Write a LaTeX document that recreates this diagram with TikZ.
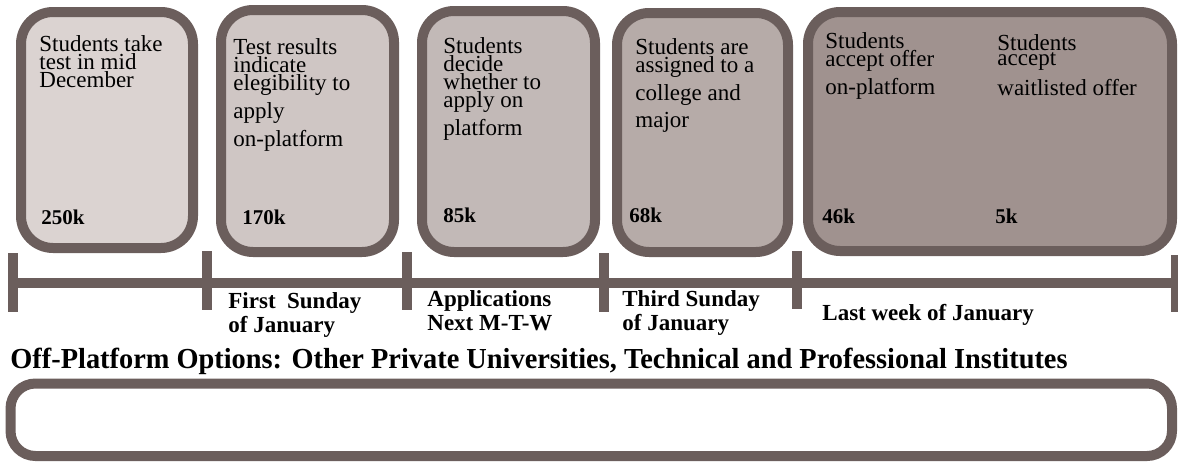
\documentclass[tikz,border=0pt]{standalone}
\usepackage{fontspec}
\setmainfont{Liberation Serif}
\usetikzlibrary{positioning}
\definecolor{frameC}{RGB}{107,94,92}
\definecolor{fillA}{RGB}{219,211,209}
\definecolor{fillB}{RGB}{207,198,196}
\definecolor{fillC}{RGB}{194,185,183}
\definecolor{fillD}{RGB}{182,171,168}
\definecolor{fillE}{RGB}{160,146,143}

\begin{document}
\begin{tikzpicture}
  [x=0.5pt,y=-0.5pt,
   stageN/.style={draw=frameC,line width=5pt,rounded corners=16pt,inner sep=0pt},
   txtN/.style={anchor=north west,align=left,inner sep=0pt,font=\fontsize{11.5}{9}\selectfont},
   numN/.style={anchor=base west,inner sep=0pt,font=\fontsize{10.5}{9}\selectfont\bfseries},
   dateN/.style={anchor=north west,align=left,inner sep=0pt,font=\fontsize{11.5}{12}\selectfont\bfseries}]

  \useasboundingbox (0,0) rectangle (1178,461);

  % stages
  \node[stageN,fill=fillA,minimum width=86pt,minimum height=118pt] (s1) at (107,130) {};
  \node[stageN,fill=fillB,minimum width=86.5pt,minimum height=121pt] (s2) at (307.5,131) {};
  \node[stageN,fill=fillC,minimum width=86.5pt,minimum height=120.5pt] (s3) at (508.5,131.5) {};
  \node[stageN,fill=fillD,minimum width=85.5pt,minimum height=119.5pt] (s4) at (702.5,132.5) {};
  \node[stageN,fill=fillE,minimum width=182pt,minimum height=119.5pt] (s5) at (990,131.5) {};

  \node[txtN] (t1) at (39,35) {Students take\\test in mid\\December};
  \node[txtN] (t2) at (233,38) {Test results\\indicate\\elegibility to\\[2.5pt]apply\\[2.5pt]on-platform};
  \node[txtN] (t3) at (443,37) {Students\\decide\\whether to\\apply on\\[2.5pt]platform};
  \node[txtN] (t4) at (635,38) {Students are\\assigned to a\\[2.5pt]college and\\[2.5pt]major};
  \node[txtN] (t5) at (825,32) {Students\\accept offer\\[2.5pt]on-platform};
  \node[txtN] (t6) at (997,34) {Students\\[-1.5pt]accept\\[3.5pt]waitlisted offer};

  \node[numN] (n1) at (41,224) {250k};
  \node[numN] (n2) at (242,224) {170k};
  \node[numN] (n3) at (443,222) {85k};
  \node[numN] (n4) at (629,222) {68k};
  \node[numN] (n5) at (822,223) {46k};
  \node[numN] (n6) at (995,223) {5k};

  % timeline
  \draw [frameC,line width=5pt] (8,282.5) -- (1178,282.5)
    (13,253) -- (13,312)   (207,251) -- (207,310)
    (407,252) -- (407,310) (604,253) -- (604,312)
    (797,251) -- (797,309) (1176,255) -- (1176,312);

  \node[dateN] (d1) at (228,292.5) {First\ \ Sunday\\of January};
  \node[dateN] (d2) at (427,290.5) {Applications\\Next M-T-W};
  \node[dateN] (d3) at (622,290.5) {Third Sunday\\of January};
  \node[dateN,anchor=base west] (d4) at (822,320) {Last week of January};

  % off-platform
  \node[anchor=base west,inner sep=0pt,font=\fontsize{14.5}{16}\selectfont\bfseries] (off) at (10,368)
    {\scalebox{0.978}[1]{Off-Platform Options: Other Private Universities, Technical and Professional Institutes}};
  \node[stageN,rounded corners=12.5pt,minimum width=580.75pt,minimum height=36.25pt] (opt) at (591.25,419.75) {};

\end{tikzpicture}
\end{document}
